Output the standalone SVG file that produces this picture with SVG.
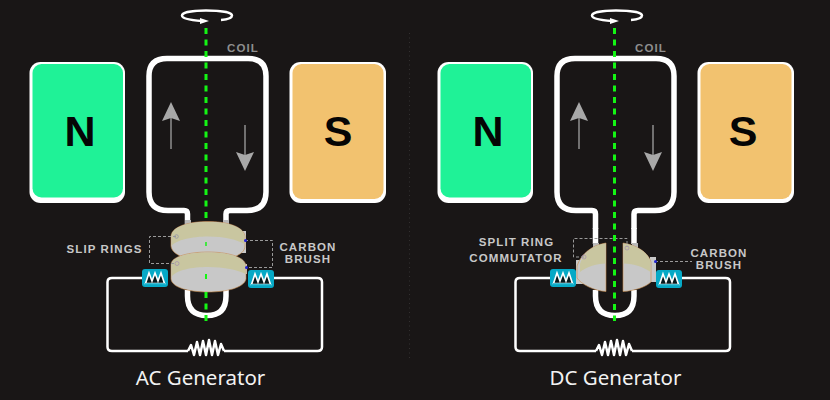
<svg xmlns="http://www.w3.org/2000/svg" width="830" height="400" viewBox="0 0 830 400">
  <style>
    .bg { fill: #191616; }
    .frame { fill: #fff; }
    .north { fill: #1ff297; }
    .south { fill: #f2c26f; }
    .pole { font: bold 43px "Liberation Sans", sans-serif; fill: #050505; text-anchor: middle; }
    .coil { fill: none; stroke: #fff; stroke-width: 5.5; stroke-linejoin: round; }
    .wire { fill: none; stroke: #fff; stroke-width: 2.5; stroke-linejoin: round; }
    .axis { stroke: #14f514; stroke-width: 3; stroke-dasharray: 6 5.5; fill: none; }
    .force { stroke: #8f8f8f; stroke-width: 1.5; fill: none; }
    .head { fill: #a8a8a8; }
    .label { font: bold 11.5px "Liberation Sans", sans-serif; letter-spacing: 1.1px; fill: #c8c8c8; text-anchor: middle; }
    .coil-label { fill: #8e8e8e; }
    .title { font: 20.5px "Noto Sans", "Liberation Sans", sans-serif; fill: #f2f2f2; text-anchor: middle; }
    .leader { stroke: #9a9a9a; stroke-width: 1; stroke-dasharray: 3 2; fill: none; }
    .ring-top { fill: #c9c6a0; }
    .ring-edge { fill: #c8c8c8; stroke: #c98b4a; stroke-width: 0.6; }
    .brush { fill: #06a9c6; }
    .spring { fill: #04181c; stroke: #fff; stroke-width: 1.6; stroke-linejoin: miter; }
    .spin { fill: none; stroke: #fff; stroke-width: 2.5; }
    .divider { stroke: #333030; stroke-width: 1; stroke-dasharray: 1 3.5; }
  </style>
  <defs>
    <g id="brush-box">
      <rect class="brush" x="0" y="0" width="26" height="18" rx="3"/>
      <path class="spring" d="M3.500 14.500 L7 4 L10 12 L13 4 L16 12 L19 4 L22.500 14.500 Z"/>
      <path d="M3 15 H23" stroke="#06a9c6" stroke-width="1.500"/>
    </g>
    <path id="resistor" class="wire" d="M0 0 L3 -6 L6 4 L9 -9 L12 4 L15 -10 L18 4 L21 -11 L24 4 L27 -10 L30 4 L33 -7 L36 0"/>
    <path id="coil-shape" class="coil" d="M187.500 229 V214 Q187.500 210.500 184 210.500 H168 Q149 210.500 149 192 V76 Q149 58.500 167 58.500 H248 Q266 58.500 266 76 V192 Q266 210.500 247 210.500 H230 Q226 210.500 226 214 V229 M187.500 290 V296 Q187.500 315.500 207 315.500 Q226 315.500 226 296 V290"/>
    <path id="circuit" class="wire" d="M142 278 H112 Q107.500 278 107.500 282 V347 Q107.500 351 112 351 H188 M224 351 H317.500 Q322 351 322 347 V282 Q322 278 317.500 278 H274"/>
    <g id="spin-arrow">
      <path class="spin" d="M202 21 C188 20 182 18 182 15.500 C182 12 194 10.500 206 10.500 C220 10.500 232 12 232 15.500 C232 18 226 19.500 221 20"/>
      <path fill="#fff" d="M200 18 L209 21 L200 24 Z"/>
    </g>
  </defs>

  <rect class="bg" width="830" height="400"/>
  <line class="divider" x1="409.500" y1="33" x2="409.500" y2="361"/>

  <g id="ac-north">
    <rect class="frame" x="29.500" y="62" width="95.500" height="141" rx="11"/>
    <rect class="north" x="32.500" y="64" width="90.500" height="133.500" rx="9"/>
    <text class="pole" x="80" y="146">N</text>
  </g>
  <g id="ac-south">
    <rect class="frame" x="289.500" y="62" width="96.500" height="141" rx="11"/>
    <rect class="south" x="292.500" y="64" width="91" height="135" rx="9"/>
    <text class="pole" x="338" y="146">S</text>
  </g>
  <g id="ac-coil">
    <use href="#coil-shape"/>
    <text class="label coil-label" x="243" y="52">COIL</text>
  </g>
  <g id="ac-rings">
    <rect x="185" y="220" width="6" height="6" fill="#b9b9b9"/>
    <rect x="223" y="220" width="6" height="6" fill="#b9b9b9"/>
    <rect x="240" y="231" width="6" height="22" fill="#c8c8c8"/>
    <rect x="241" y="264" width="6" height="10" fill="#c8c8c8"/>
    <path class="ring-edge" d="M171 236 C172 226 190 221.500 208 221.500 C226 221.500 243 226 245 236 V246 C245 256 226 261 208 261 C190 261 172 256 171 246 Z"/>
    <path class="ring-top" d="M171.500 236 C172 226 190 222 208 222 C226 222 243 226 244.500 236 V244 C238 240 224 236.500 208 236.500 C192 236.500 176 240 171.500 246 Z"/>
    <path class="ring-edge" d="M171 264 C172 256 190 252 208 252 C226 252 245 256 246 266 V279 C244 288 226 292 208 292 C190 292 172 288 171 279 Z"/>
    <path class="ring-top" d="M171.500 265 C172 256 190 252.500 208 252.500 C226 252.500 244 256 245.500 266 V274 C238 270 224 267 208 267 C192 267 176 270 171.500 277 Z"/>
    <path class="leader" d="M176 236.500 H149.500 V263.500 H175 M245 240.500 H272.500 V267.500 H246"/>
    <circle cx="176.500" cy="236.500" r="1.800" fill="none" stroke="#8f8fa8" stroke-width="0.7"/>
    <circle cx="177" cy="263.500" r="2" fill="none" stroke="#a58fb0" stroke-width="0.7"/>
    <circle cx="245.500" cy="240.500" r="1.500" fill="#2424d0"/>
    <circle cx="246.500" cy="267.500" r="1.500" fill="#2424d0"/>
    <text class="label" x="104.500" y="253">SLIP RINGS</text>
    <text class="label" x="308" y="251">CARBON</text>
    <text class="label" x="308" y="263">BRUSH</text>
  </g>
  <g id="ac-brush-left"><use href="#brush-box" x="142" y="269"/></g>
  <g id="ac-brush-right"><use href="#brush-box" x="248" y="270"/></g>
  <g id="ac-title"><text class="title" x="200.500" y="385">AC Generator</text></g>

  <g id="dc-north">
    <rect class="frame" x="437.500" y="62" width="95.500" height="141" rx="11"/>
    <rect class="north" x="440.500" y="64" width="90.500" height="133.500" rx="9"/>
    <text class="pole" x="488" y="146">N</text>
  </g>
  <g id="dc-south">
    <rect class="frame" x="697.500" y="62" width="96.500" height="141" rx="11"/>
    <rect class="south" x="700.500" y="64" width="91" height="135" rx="9"/>
    <text class="pole" x="743" y="146">S</text>
  </g>
  <g id="dc-coil">
    <use href="#coil-shape" x="408"/>
    <!-- the neck runs further down here, as far as the commutator -->
    <path class="coil" d="M595.500 228 V244 M634 228 V244"/>
    <text class="label coil-label" x="651" y="52">COIL</text>
  </g>
  <g id="dc-commutator">
    <rect x="593" y="243" width="6" height="8" fill="#b9b9b9"/>
    <rect x="632" y="243" width="6" height="8" fill="#b9b9b9"/>
    <rect x="576" y="260" width="8" height="24" fill="#c8c8c8"/>
    <rect x="650" y="257" width="6" height="25" fill="#c8c8c8"/>
    <path class="ring-edge" d="M606 243 C592 245 581 254 577 266 V278 C581 284 594 291 606 291.500 Z"/>
    <path class="ring-top" d="M605.500 243.500 C592 245 583 254 580 264 V272 C586 267 596 264 605.500 263.500 Z"/>
    <path class="ring-edge" d="M623 243 C636 245 648 252 651 262 V282 C646 287 634 291 623 291.500 Z"/>
    <path class="ring-top" d="M623.500 243.500 C636 245 648 252 650.500 262 V272 C644 267 634 264 623.500 263.500 Z"/>
    <path class="leader" d="M584 257 H573.500 V238.500 H627 V247 M655 261.500 H692"/>
    <circle cx="584" cy="257" r="2" fill="none" stroke="#a58fb0" stroke-width="0.7"/>
    <circle cx="627" cy="248" r="2" fill="none" stroke="#a58fb0" stroke-width="0.7"/>
    <circle cx="655.500" cy="261.500" r="1.500" fill="#2424d0"/>
    <text class="label" x="516.500" y="246">SPLIT RING</text>
    <text class="label" x="516" y="262">COMMUTATOR</text>
    <text class="label" x="719" y="257">CARBON</text>
    <text class="label" x="719" y="269">BRUSH</text>
  </g>
  <g id="dc-brush-left"><use href="#brush-box" x="550" y="269"/></g>
  <g id="dc-brush-right"><use href="#brush-box" x="656" y="270"/></g>
  <g id="dc-title"><text class="title" x="615.500" y="385">DC Generator</text></g>

  <g id="connectors">
    <use href="#spin-arrow"/>
    <use href="#spin-arrow" x="410"/>
    <line class="axis" x1="206" y1="28" x2="206" y2="222"/>
    <line class="axis" x1="206" y1="292" x2="206" y2="321"/>
    <line class="axis" x1="614.500" y1="28" x2="614.500" y2="321"/>
    <line x1="206" y1="242" x2="206" y2="246" stroke="#14f514" stroke-width="1.500"/>
    <line x1="206" y1="274" x2="206" y2="279" stroke="#14f514" stroke-width="2"/>
    <path class="force" d="M171 149 V118"/><path class="head" d="M171 102 L180 121 L171 118 L162 121 Z"/>
    <path class="force" d="M245 125 V155"/><path class="head" d="M245 171 L236 152 L245 155 L254 152 Z"/>
    <path class="force" d="M579 149 V118"/><path class="head" d="M579 102 L588 121 L579 118 L570 121 Z"/>
    <path class="force" d="M653 125 V155"/><path class="head" d="M653 171 L644 152 L653 155 L662 152 Z"/>
    <use href="#circuit"/>
    <use href="#circuit" x="408"/>
    <use href="#resistor" x="188" y="351"/>
    <use href="#resistor" x="596" y="351"/>
  </g>
</svg>
